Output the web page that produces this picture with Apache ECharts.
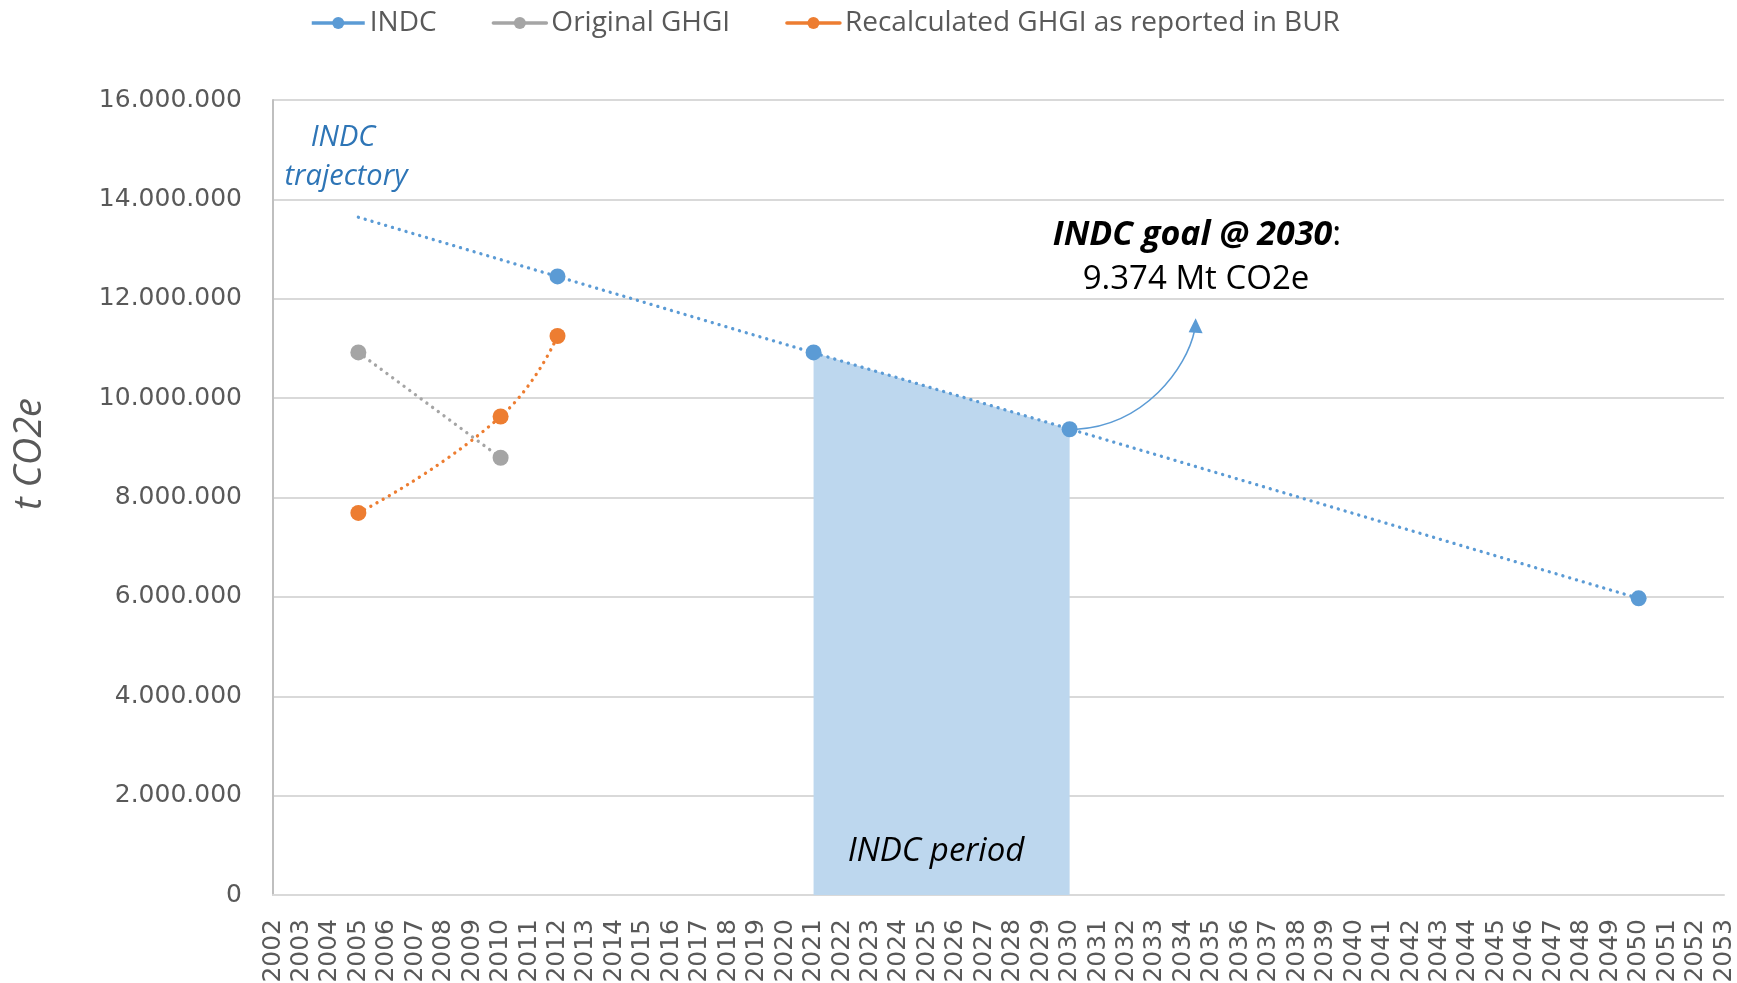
<!DOCTYPE html>
<html><head><meta charset="utf-8">
<script src="https://cdn.jsdelivr.net/npm/echarts@6/dist/echarts.min.js"></script>
<style>html,body{margin:0;padding:0;background:#fff}#c{width:1737px;height:983px}</style>
</head><body><div id="c"></div>
<script>
// ---- data ----
const years = ['2002','2003','2004','2005','2006','2007','2008','2009','2010','2011','2012','2013','2014','2015','2016','2017','2018','2019','2020','2021','2022','2023','2024','2025','2026','2027','2028','2029','2030','2031','2032','2033','2034','2035','2036','2037','2038','2039','2040','2041','2042','2043','2044','2045','2046','2047','2048','2049','2050','2051','2052','2053'];
const yMin = 0, yMax = 16000000, yStep = 2000000;
const indcPoints = [['2012', 12450000], ['2021', 10920000], ['2030', 9374000], ['2050', 5970000]];
const indcTrajectory = [['2005', 13640000], ['2050', 5970000]];
const indcPeriod = [['2021', 10920000], ['2030', 9374000]];
const originalGHGI = [['2005', 10920000], ['2010', 8800000]];
const recalculatedGHGI = [['2005', 7690000], ['2010', 9630000], ['2012', 11250000]];
const goalYear = '2030', goalValue = 9374000;

const C_BLUE = '#5B9BD5', C_GRAY = '#A5A5A5', C_ORANGE = '#ED7D31', C_AREA = '#BDD7EE';
const SANS = "'Open Sans', 'Noto Sans', sans-serif";
const DEJA = "'DejaVu Sans', Verdana, sans-serif";
const dots = { width: 3.3, type: [0.1, 7], cap: 'round' };

const chart = echarts.init(document.getElementById('c'), null, { renderer: 'canvas' });
const fmt = v => String(v).replace(/\B(?=(\d{3})+(?!\d))/g, '.');

const option = {
  animation: false,
  backgroundColor: '#fff',
  legend: {
    top: 4, left: 305,
    itemWidth: 53, itemHeight: 15, itemGap: 55,
    textStyle: { fontFamily: SANS, fontSize: 28, color: '#595959' },
    data: [
      { name: 'INDC', lineStyle: { width: 3.5, type: 'solid', color: C_BLUE } },
      { name: 'Original GHGI', lineStyle: { width: 3.5, type: 'solid', color: C_GRAY } },
      { name: 'Recalculated GHGI as reported in BUR', lineStyle: { width: 3.5, type: 'solid', color: C_ORANGE } }
    ]
  },
  grid: { left: 273, right: 13, top: 100, bottom: 88, containLabel: false, outerBoundsMode: 'none' },
  xAxis: {
    type: 'category', data: years, boundaryGap: false,
    axisLine: { show: true, lineStyle: { color: '#D9D9D9', width: 2 } },
    axisTick: { show: false },
    axisLabel: { interval: 0, rotate: 90, fontFamily: DEJA, fontSize: 25, color: '#595959', margin: 24 },
    splitLine: { show: false }
  },
  yAxis: {
    type: 'value', min: yMin, max: yMax, interval: yStep,
    axisLine: { show: true, lineStyle: { color: '#BFBFBF', width: 2 } },
    axisTick: { show: false },
    axisLabel: { formatter: fmt, fontFamily: DEJA, fontSize: 25, color: '#595959', margin: 31 },
    splitLine: { lineStyle: { color: '#D9D9D9', width: 2 } }
  },
  series: [
    { name: 'INDC period', type: 'line', data: indcPeriod, showSymbol: false, symbol: 'none',
      lineStyle: { width: 0 }, areaStyle: { color: C_AREA, opacity: 1 }, z: 1, silent: true },
    { name: 'INDC trajectory', type: 'line', data: indcTrajectory, symbol: 'none',
      lineStyle: Object.assign({ color: C_BLUE }, dots), z: 2, silent: true },
    { name: 'Original GHGI', type: 'line', data: originalGHGI, symbol: 'circle', symbolSize: 16,
      itemStyle: { color: C_GRAY }, lineStyle: Object.assign({ color: C_GRAY }, dots), z: 3 },
    { name: 'Recalculated GHGI as reported in BUR', type: 'line', data: recalculatedGHGI, smooth: 0.5,
      symbol: 'circle', symbolSize: 16,
      itemStyle: { color: C_ORANGE }, lineStyle: Object.assign({ color: C_ORANGE }, dots), z: 3 },
    { name: 'INDC', type: 'line', data: indcPoints, symbol: 'circle', symbolSize: 16,
      itemStyle: { color: C_BLUE }, lineStyle: { width: 0, color: C_BLUE }, z: 4 }
  ],
  graphic: [
    { type: 'text', x: 30, y: 454, rotation: Math.PI / 2, z: 100,
      style: { text: 't CO2e', font: "italic 38px " + SANS, fill: '#595959', align: 'center', verticalAlign: 'middle' } },
    { type: 'text', x: 343, y: 138, z: 100, style: { text: 'INDC', font: "italic 29px " + SANS, fill: '#2E75B6', align: 'center', verticalAlign: 'middle' } },
    { type: 'text', x: 346, y: 177, z: 100, style: { text: 'trajectory', font: "italic 29px " + SANS, fill: '#2E75B6', align: 'center', verticalAlign: 'middle' } },
    { type: 'text', x: 1197, y: 235, z: 100, style: {
        text: '{b|INDC goal @ 2030}{r|:}', align: 'center', verticalAlign: 'middle',
        rich: { b: { font: "italic bold 34px " + SANS, fill: '#000' }, r: { font: "34px " + SANS, fill: '#000' } } } },
    { type: 'text', x: 1196, y: 280, z: 100, style: { text: '9.374 Mt CO2e', font: "33px " + SANS, fill: '#000', align: 'center', verticalAlign: 'middle' } },
    { type: 'text', x: 936, y: 852, z: 100, style: { text: 'INDC period', font: "italic 33px " + SANS, fill: '#000', align: 'center', verticalAlign: 'middle' } }
  ]
};
chart.setOption(option);

// curved arrow from the 2030 goal point to the annotation
const p = chart.convertToPixel({ gridIndex: 0 }, [goalYear, goalValue]);
const tip = [p[0] + 125, p[1] - 111];
chart.setOption({
  graphic: option.graphic.concat([
    { type: 'bezierCurve', z: 100, shape: { x1: p[0] + 7, y1: p[1], cpx1: p[0] + 75, cpy1: p[1] - 4, cpx2: tip[0] - 8, cpy2: tip[1] + 50, x2: tip[0], y2: tip[1] + 12 },
      style: { stroke: C_BLUE, lineWidth: 1.5, fill: null } },
    { type: 'polygon', z: 100, shape: { points: [[tip[0] + 1, tip[1]], [tip[0] - 6, tip[1] + 14], [tip[0] + 8, tip[1] + 15]] },
      style: { fill: C_BLUE } }
  ])
});
</script></body></html>
